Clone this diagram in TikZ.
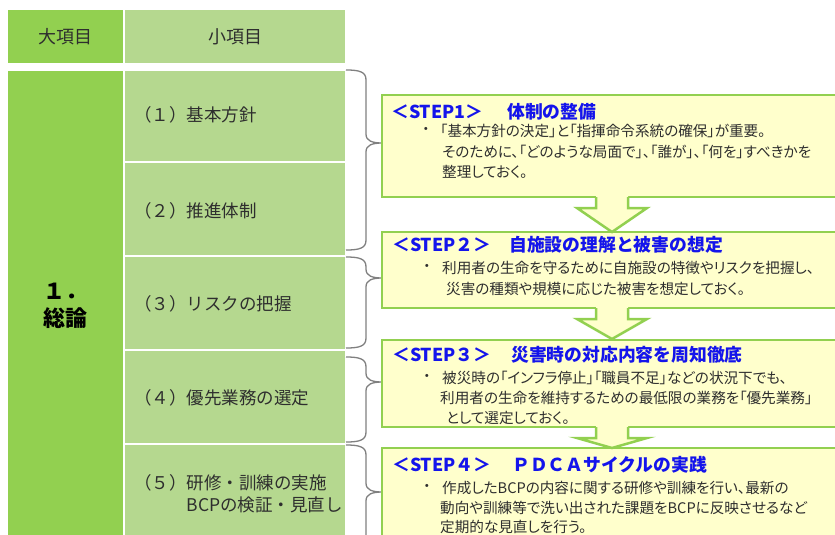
\documentclass[tikz,border=0pt]{standalone}
\usepackage{fontspec}
\setmainfont{Noto Sans CJK JP}
\newfontfamily\jp[RawFeature=+palt]{Noto Sans CJK JP}
\definecolor{dkgreen}{HTML}{92D050}
\definecolor{ltgreen}{HTML}{B5D88F}
\definecolor{boxfill}{HTML}{FFFFCC}
\definecolor{boxline}{HTML}{92D050}
\definecolor{stepblue}{RGB}{20,20,235}
\definecolor{txtgray}{HTML}{2E2E2E}
\definecolor{bracegray}{HTML}{808080}
\tikzset{
  cell/.style={inner sep=0, outer sep=0, anchor=north west},
  headtext/.style={inner sep=0, text=txtgray, font=\fontsize{18}{22}\selectfont},
  rowtext/.style={inner sep=0, anchor=west, text=txtgray, align=left, font=\fontsize{17.5}{22}\selectfont},
  bigtext/.style={inner sep=0, text=black, font=\bfseries\fontsize{22}{26}\selectfont},
  stepbox/.style={draw=boxline, fill=boxfill, line width=2.5pt, inner sep=0, outer sep=0, anchor=north west},
  steplabel/.style={inner sep=0, anchor=west, text=stepblue, font=\bfseries\fontsize{17.8}{20}\selectfont},
  bodytext/.style={inner sep=0, anchor=west, text=txtgray, font=\jp\fontsize{14.6}{18}\selectfont},
  bullet/.style={inner sep=0, anchor=center, text=txtgray, font=\fontsize{14.6}{18}\selectfont},
  bracestyle/.style={draw=bracegray, line width=1.3pt},
  arrowfill/.style={fill=boxfill},
  arrowline/.style={draw=boxline, line width=2.5pt, line join=miter},
}
\begin{document}
\begin{tikzpicture}[x=1pt,y=-1pt]
\useasboundingbox (0,0) rectangle (835,535);
\clip (0,0) rectangle (835,535);
\fill[white] (0,0) rectangle (835,535);

% header
\node[cell, fill=dkgreen, minimum width=115, minimum height=53] (hbig) at (8,10) {};
\node[cell, fill=ltgreen, minimum width=220, minimum height=53] (hsmall) at (125,10) {};
\node[headtext] (htx1) at (hbig.center) {大項目};
\node[headtext] (htx2) at (hsmall.center) {小項目};

% body
\node[cell, fill=dkgreen, minimum width=115, minimum height=480] (big) at (8,71) {};
\node[cell, fill=ltgreen, minimum width=220, minimum height=90] (c1) at (125,71) {};
\node[cell, fill=ltgreen, minimum width=220, minimum height=92] (c2) at (125,163) {};
\node[cell, fill=ltgreen, minimum width=220, minimum height=92] (c3) at (125,257) {};
\node[cell, fill=ltgreen, minimum width=220, minimum height=92] (c4) at (125,351) {};
\node[cell, fill=ltgreen, minimum width=220, minimum height=100] (c5) at (125,445) {};

\node[bigtext] (bt1) at (65,291) {１．};
\node[bigtext] (bt2) at (65,318) {総論};

\node[rowtext] (r1) at (134,115) {（１）基本方針};
\node[rowtext] (r2) at (134,211) {（２）推進体制};
\node[rowtext] (r3) at (134,304) {（３）リスクの把握};
\node[rowtext] (r4) at (134,398) {（４）優先業務の選定};
\node[rowtext] (r5) at (134,494) {（５）研修・訓練の実施\\\hphantom{（５）}BCPの検証・見直し};

% braces
\foreach \t/\m/\b/\n in {70/143/250/1, 257/278/348/2, 357/382/442/3, 445/492/560/4}{
  \coordinate (brtip\n) at (383,\m);
  \draw[bracestyle] (346,\t) .. controls (360,\t) and (366,\t+2) .. (366,\t+10)
     -- (366,\m-9) .. controls (366,\m-2) and (372,\m) .. (brtip\n)
     .. controls (372,\m) and (366,\m+2) .. (366,\m+9)
     -- (366,\b-10) .. controls (366,\b-2) and (360,\b) .. (346,\b);
}

% step boxes
\node[stepbox, minimum width=470, minimum height=102] (box1) at (382,95) {};
\node[stepbox, minimum width=470, minimum height=76] (box2) at (382,232) {};
\node[stepbox, minimum width=470, minimum height=87] (box3) at (382,340) {};
\node[stepbox, minimum width=470, minimum height=110] (box4) at (382,448) {};

% block arrows
\foreach \b/\t in {197/232, 308/339, 427/448}{
  \fill[arrowfill] (596,\b-1.4) -- (596,\b+11) -- (577,\b+11) -- (612,\t) -- (647,\b+11) -- (628,\b+11) -- (628,\b-1.4) -- cycle;
  \draw[arrowline] (596,\b) -- (596,\b+11) -- (577,\b+11) -- (612,\t) -- (647,\b+11) -- (628,\b+11) -- (628,\b);
}

% step 1
\node[steplabel] (l1) at (391,112) {＜STEP1＞};
\node[steplabel] (t1) at (507,112) {体制の整備};
\node[bullet] (d1) at (426,131) {・};
\node[bodytext] (s1a) at (440,131) {「基本方針の決定」と「指揮命令系統の確保」が重要。};
\node[bodytext] (s1b) at (442,152) {そのために、「どのような局面で」、「誰が」、「何を」すべきかを};
\node[bodytext] (s1c) at (442,172) {整理しておく。};

% step 2
\node[steplabel] (l2) at (392,245) {＜STEP２＞};
\node[steplabel] (t2) at (509,245) {自施設の理解と被害の想定};
\node[bullet] (d2) at (427,268) {・};
\node[bodytext] (s2a) at (442,268) {利用者の生命を守るために自施設の特徴やリスクを把握し、};
\node[bodytext] (s2b) at (446,289) {災害の種類や規模に応じた被害を想定しておく。};

% step 3
\node[steplabel] (l3) at (392,355) {＜STEP３＞};
\node[steplabel] (t3) at (511,355) {災害時の対応内容を周知徹底};
\node[bullet] (d3) at (427,378) {・};
\node[bodytext] (s3a) at (442,378) {被災時の「インフラ停止」「職員不足」などの状況下でも、};
\node[bodytext] (s3b) at (440,398) {利用者の生命を維持するための最低限の業務を「優先業務」};
\node[bodytext] (s3c) at (446,418) {として選定しておく。};

% step 4
\node[steplabel] (l4) at (392,465) {＜STEP４＞};
\node[steplabel] (t4) at (512,465) {ＰＤＣＡサイクルの実践};
\node[bullet] (d4) at (427,488) {・};
\node[bodytext] (s4a) at (442,488) {作成したBCPの内容に関する研修や訓練を行い、最新の};
\node[bodytext] (s4b) at (440,508) {動向や訓練等で洗い出された課題をBCPに反映させるなど};
\node[bodytext] (s4c) at (440,527) {定期的な見直しを行う。};
\end{tikzpicture}
\end{document}
